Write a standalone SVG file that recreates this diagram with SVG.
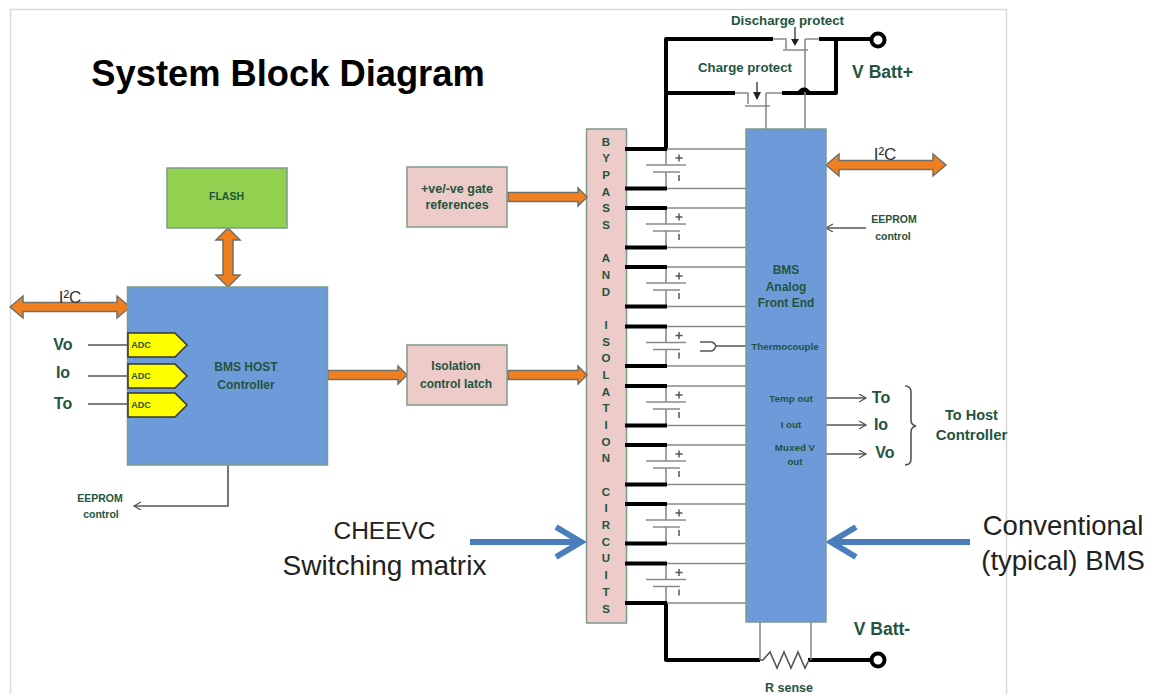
<svg xmlns="http://www.w3.org/2000/svg" width="1151" height="694" viewBox="0 0 1151 694">
<style>
text{font-family:"Liberation Sans",Arial,sans-serif;text-anchor:middle}
.g{fill:#23543f;font-weight:bold}
.s{font-size:10.500px}
.l{font-size:12px}
.t{font-size:9.800px}
.m{font-size:16px}
.big{font-size:27.500px;fill:#222}
.k{fill:#000}
.box{stroke:#7f9a8c;stroke-width:1.5}
.pink{fill:#eccbc8}
.blue{fill:#6d9bd9}
.or{fill:#f0801f;stroke:#6f6f68;stroke-width:1.5}
.adc{fill:#ffff00;stroke:#333;stroke-width:1.5}
.thin{fill:none;stroke:#8a8a8a;stroke-width:1.6}
.dark{fill:none;stroke:#555;stroke-width:1.6}
.thick{fill:none;stroke:#000;stroke-width:4;stroke-linejoin:round}
.term{fill:#fff;stroke:#000;stroke-width:4}
.bl{fill:none;stroke:#4a7ebb;stroke-width:6}
</style>
<defs>
<marker id="open" markerWidth="10" markerHeight="10" refX="8" refY="4" orient="auto" markerUnits="userSpaceOnUse"><path d="M1 0L8 4L1 8" fill="none" stroke="#555" stroke-width="1.3"/></marker>
<g id="cell">
<path class="thin" d="M667 0H746M667 39.500H746M666 0V16M666 23V39.500M646 16H686M653 23H680"/>
<path class="thick" d="M625 0H667M625 39.500H667"/>
<path d="M675.500 9H682.500M679 5.500V12.500M679 26V32" fill="none" stroke="#555" stroke-width="1.5"/>
</g>
</defs>
<rect width="1151" height="694" fill="#fff"/>
<path d="M10.500 694V9.500H1006.500V694" fill="none" stroke="#d9d9d9" stroke-width="1.500"/>
<text x="288" y="86" fill="#000" font-weight="bold" font-size="36.300" id="title">System Block Diagram</text>

<g id="bypass"><rect class="box pink" x="586.500" y="129" width="40" height="494"/>
<text class="g" style="font-size:11.500px"><tspan x="606" y="146">B</tspan><tspan x="606" y="162">Y</tspan><tspan x="606" y="179">P</tspan><tspan x="606" y="196">A</tspan><tspan x="606" y="212">S</tspan><tspan x="606" y="229">S</tspan><tspan x="606" y="262">A</tspan><tspan x="606" y="279">N</tspan><tspan x="606" y="296">D</tspan><tspan x="606" y="329">I</tspan><tspan x="606" y="346">S</tspan><tspan x="606" y="362">O</tspan><tspan x="606" y="379">L</tspan><tspan x="606" y="396">A</tspan><tspan x="606" y="412">T</tspan><tspan x="606" y="429">I</tspan><tspan x="606" y="446">O</tspan><tspan x="606" y="462">N</tspan><tspan x="606" y="496">C</tspan><tspan x="606" y="512">I</tspan><tspan x="606" y="529">R</tspan><tspan x="606" y="546">C</tspan><tspan x="606" y="562">U</tspan><tspan x="606" y="579">I</tspan><tspan x="606" y="596">T</tspan><tspan x="606" y="613">S</tspan></text></g>

<g id="connectors">
<path class="dark" d="M228 465V506H134" marker-end="url(#open)"/>
<path class="dark" d="M88 345H128M88 376H128M88 404H128"/>
<path class="dark" d="M866 228H826" marker-end="url(#open)"/>
<path class="dark" d="M826 398H866" marker-end="url(#open)"/>
<path class="dark" d="M826 425H866" marker-end="url(#open)"/>
<path class="dark" d="M826 454H866" marker-end="url(#open)"/>
<path class="thick" d="M666 149V39H773M819 39H872M836 39V93H782M666 93H735M666 603V660H760M808 660H872"/>
<path class="thin" d="M773 39H786V49M805 39H819M805 39V129M783 50H808M735 93H748V104M766 93H782M766 93V129M745 106H770"/>
<path d="M799 93Q804 86 809 93" fill="none" stroke="#000" stroke-width="4"/>
<path class="dark" d="M795 27V44M757 82V99"/>
<path d="M791 39H799L795 46ZM753 92H761L757 100Z" fill="#222"/>
<path class="thin" d="M760 622V660M811 622V660"/>
<path class="dark" d="M760 660L763 660L770 652L777 668L784 652L791 668L798 652L805 668L809 660"/>
<use href="#cell" y="149"/><use href="#cell" y="208"/><use href="#cell" y="267"/><use href="#cell" y="326.500"/>
<use href="#cell" y="386"/><use href="#cell" y="445"/><use href="#cell" y="504"/><use href="#cell" y="563.500"/>
<path class="dark" d="M716 346H746M700 342H711Q714 342 716 346Q714 351 711 351H700"/>
<path class="dark" d="M905 386Q911 386 911 392V420Q911 425 916 426Q911 427 911 432V459Q911 465 905 465"/>
<g id="orange">
<path class="or" d="M10 307L23 296V302.500H117V296L130 307L117 318V311.500H23V318Z"/>
<path class="or" d="M826 165L839 154V160.500H933V154L946 165L933 176V169.500H839V176Z"/>
<path class="or" d="M228 228L240 240H233V275H240L228 287L216 275H223V240H216Z"/>
<path class="or" d="M508 192.500H578V188L587 197L578 206V201.500H508Z"/>
<path class="or" d="M328 370.500H398V366L407 375L398 384V379.500H328Z"/>
<path class="or" d="M508 370.500H578V366L587 375L578 384V379.500H508Z"/>
</g>
<g id="blue-arrows">
<path class="bl" d="M470 542H580M556 527L581 542L556 557"/>
<path class="bl" d="M970 542H830M856 527L831 542L856 557"/>
</g>
</g>

<g id="flash"><rect class="box" x="167" y="168" width="120" height="60" fill="#92d050"/><text class="g s" x="226.500" y="200">FLASH</text></g>
<g id="gate-refs"><rect class="box pink" x="407" y="167" width="100" height="60"/><text class="g" style="font-size:12.500px" x="457" y="193">+ve/-ve gate</text><text class="g" style="font-size:12.500px" x="457" y="209">references</text></g>
<g id="iso-latch"><rect class="box pink" x="407" y="345" width="100" height="60"/><text class="g l" x="456" y="370">Isolation</text><text class="g l" x="456" y="388">control latch</text></g>
<g id="host"><rect class="box blue" x="127.500" y="287" width="200" height="178"/>
<text class="g l" x="246" y="371">BMS HOST</text><text class="g l" x="246" y="389">Controller</text></g>
<g id="adc-vo"><path class="adc" d="M128 333H175L187 345L175 357H128Z"/><text class="g" font-size="9" x="141" y="348">ADC</text></g>
<g id="adc-io"><path class="adc" d="M128 364H175L187 376L175 388H128Z"/><text class="g" font-size="9" x="141" y="379">ADC</text></g>
<g id="adc-to"><path class="adc" d="M128 393H175L187 405L175 417H128Z"/><text class="g" font-size="9" x="141" y="408">ADC</text></g>
<g id="afe"><rect class="box blue" x="746" y="129" width="80" height="493"/>
<text class="g l" x="786" y="274">BMS</text><text class="g l" x="786" y="291">Analog</text><text class="g l" x="786" y="307">Front End</text>
<text class="g t" x="785" y="350">Thermocouple</text>
<text class="g t" x="791" y="402">Temp out</text><text class="g t" x="791" y="428">I out</text><text class="g t" x="795" y="451">Muxed V</text><text class="g t" x="795" y="465">out</text></g>

<g id="labels">
<text class="g" x="787.500" y="25" style="font-size:13.300px">Discharge protect</text>
<text class="g" x="745" y="72" style="font-size:13.200px">Charge protect</text>
<text class="g" x="882.500" y="78" style="font-size:17.500px">V Batt+</text>
<text class="g" x="882" y="635" style="font-size:17.500px">V Batt-</text>
<text class="g" x="789" y="692" style="font-size:12.500px">R sense</text>
<text x="70" y="303" font-size="17" fill="#333">I²C</text>
<text x="885" y="160" font-size="17" fill="#333">I²C</text>
<text class="g m" x="63" y="350">Vo</text><text class="g m" x="63" y="378">Io</text><text class="g m" x="63" y="409">To</text>
<text class="g m" x="881" y="403">To</text><text class="g m" x="881" y="430">Io</text><text class="g m" x="885" y="458">Vo</text>
<text class="g" x="971.500" y="420" style="font-size:14.500px">To Host</text><text class="g" x="971.500" y="440" style="font-size:15px">Controller</text>
<text class="g s" x="894" y="223">EEPROM</text><text class="g s" x="893" y="240">control</text>
<text class="g s" x="100" y="502">EEPROM</text><text class="g s" x="101" y="518">control</text>
<text class="big" x="384.500" y="539" style="font-size:24.500px">CHEEVC</text><text class="big" x="384.500" y="575" style="font-size:28px">Switching matrix</text>
<text class="big" x="1063" y="535">Conventional</text><text class="big" x="1063" y="570">(typical) BMS</text>
</g>
<g id="terminals"><circle class="term" cx="878" cy="40" r="6.500"/><circle class="term" cx="878" cy="660" r="6.500"/></g>
</svg>
